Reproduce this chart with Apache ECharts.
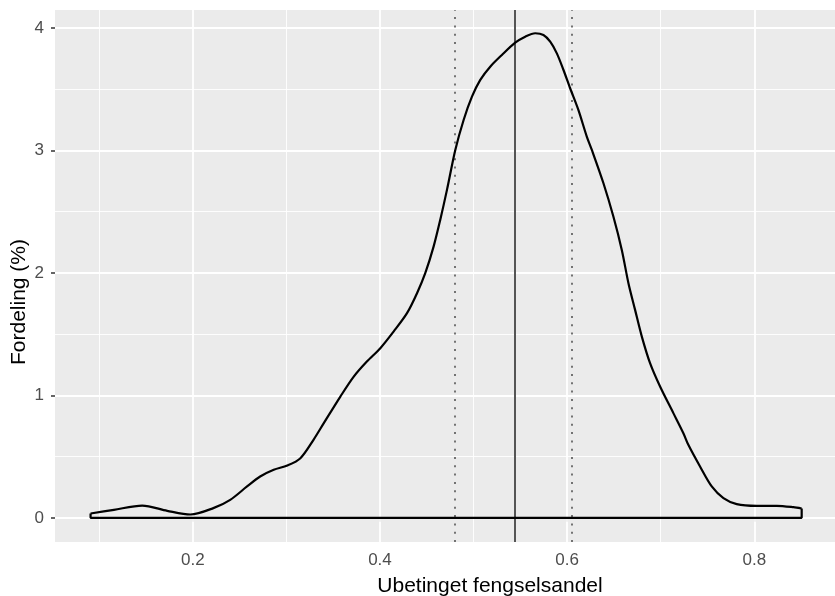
<!DOCTYPE html>
<html>
<head>
<meta charset="utf-8">
<script src="https://cdn.jsdelivr.net/npm/echarts@6/dist/echarts.min.js"></script>
<style>
html,body{margin:0;padding:0;background:#fff;}
#chart{width:835px;height:596px;}
</style>
</head>
<body>
<div id="chart"></div>
<script>
// Density curve (x = Ubetinget fengselsandel, y = Fordeling %)
const densityX = [0.0908,0.1157,0.146,0.1727,0.1975,0.222,0.240,0.258,0.272,0.2865,0.301,0.315,0.329,0.340,0.3577,0.372,0.386,0.4004,0.4146,0.4289,0.4396,0.4484,0.4573,0.4644,0.4716,0.4805,0.4894,0.4983,0.5072,0.5178,0.5303,0.5445,0.5552,0.5659,0.5747,0.5819,0.589,0.5961,0.6032,0.612,0.621,0.6264,0.6388,0.6494,0.6584,0.6655,0.6726,0.6798,0.6886,0.6993,0.7135,0.7242,0.7295,0.742,0.7545,0.767,0.7812,0.8025,0.824,0.8416,0.8506];
const densityY = [0.035,0.065,0.100,0.057,0.027,0.079,0.147,0.256,0.337,0.392,0.427,0.487,0.637,0.773,0.990,1.153,1.276,1.385,1.521,1.671,1.834,1.998,2.215,2.433,2.678,3.004,3.249,3.439,3.576,3.684,3.780,3.880,3.929,3.957,3.943,3.888,3.793,3.657,3.508,3.331,3.113,3.004,2.732,2.460,2.188,1.916,1.698,1.480,1.263,1.072,0.855,0.691,0.596,0.419,0.256,0.161,0.112,0.098,0.098,0.087,0.076];
const dataMin = 0.0908, dataMax = 0.8506;
// Reference lines
const dottedLines = [0.48, 0.605];
const solidLine = [0.5445];
// Ticks and grid
const xMajor = [0.2, 0.4, 0.6, 0.8];
const xMinor = [0.1, 0.3, 0.5, 0.7];
const yMajor = [0, 1, 2, 3, 4];
const yMinor = [0.5, 1.5, 2.5, 3.5];

const curve = densityX.map((x, i) => [x, densityY[i]]);
const closing = [[dataMax, densityY[densityY.length-1]], [dataMax, 0], [dataMin, 0], [dataMin, densityY[0]]];

const FONT = 'Liberation Sans, Arial, Helvetica, sans-serif';
function gridLines(arr, key, w) {
  return {
    silent: true, symbol: 'none', animation: false, precision: 4,
    label: {show: false}, emphasis: {disabled: true},
    lineStyle: {color: '#ffffff', width: w, type: 'solid'},
    data: arr.map(v => ({[key]: v}))
  };
}

const chart = echarts.init(document.getElementById('chart'), null, {renderer: 'canvas'});
chart.setOption({
  animation: false,
  backgroundColor: '#ffffff',
  grid: {left: 55, right: 0, top: 10, bottom: 54, show: true, backgroundColor: '#EBEBEB', borderWidth: 0,
    containLabel: false, outerBoundsMode: 'none'},
  xAxis: {
    type: 'value', min: 0.0528, max: 0.8862,
    name: 'Ubetinget fengselsandel', nameLocation: 'middle', nameGap: 34, nameMoveOverlap: false,
    nameTextStyle: {color: '#000', fontSize: 21, fontFamily: FONT, padding: [0, 0, 0, 90]},
    axisLine: {show: false},
    axisTick: {show: true, length: 4, customValues: xMajor, lineStyle: {color: '#333', width: 1.5}},
    axisLabel: {customValues: xMajor, color: '#4D4D4D', fontSize: 17, fontFamily: FONT, margin: 10,
      formatter: v => String(Math.round(v*10)/10)},
    splitLine: {show: false}
  },
  yAxis: {
    type: 'value', min: -0.1975, max: 4.147,
    name: 'Fordeling (%)', nameLocation: 'middle', nameGap: 25, nameMoveOverlap: false,
    nameTextStyle: {color: '#000', fontSize: 21, fontFamily: FONT, padding: [0, 52, 0, 0]},
    axisLine: {show: false},
    axisTick: {show: true, length: 4, customValues: yMajor, lineStyle: {color: '#333', width: 1.5}},
    axisLabel: {customValues: yMajor, color: '#4D4D4D', fontSize: 17, fontFamily: FONT, margin: 11,
      formatter: v => String(Math.round(v))},
    splitLine: {show: false}
  },
  series: [
    {type: 'line', data: [], z: 1, markLine: gridLines(xMinor, 'xAxis', 0.9)},
    {type: 'line', data: [], z: 1, markLine: gridLines(yMinor, 'yAxis', 0.9)},
    {type: 'line', data: [], z: 1, markLine: gridLines(xMajor, 'xAxis', 1.8)},
    {type: 'line', data: [], z: 1, markLine: gridLines(yMajor, 'yAxis', 1.8)},
    {type: 'line', data: curve, smooth: 0.3, showSymbol: false, symbol: 'none', zlevel: 1, z: 3,
      lineStyle: {color: '#000', width: 2.2}},
    {type: 'line', data: closing, smooth: false, showSymbol: false, symbol: 'none', zlevel: 1, z: 3,
      lineStyle: {color: '#000', width: 2.2}},
    {type: 'line', data: [], zlevel: 1, z: 4, markLine: {
      silent: true, symbol: 'none', animation: false, precision: 4, label: {show: false}, emphasis: {disabled: true},
      lineStyle: {color: '#555', width: 1.6, type: [2, 6.3]},
      data: dottedLines.map(v => ({xAxis: v}))}},
    {type: 'line', data: [], zlevel: 1, z: 4, markLine: {
      silent: true, symbol: 'none', animation: false, precision: 4, label: {show: false}, emphasis: {disabled: true},
      lineStyle: {color: '#555', width: 2, type: 'solid'},
      data: solidLine.map(v => ({xAxis: v}))}}
  ]
});
</script>
</body>
</html>
